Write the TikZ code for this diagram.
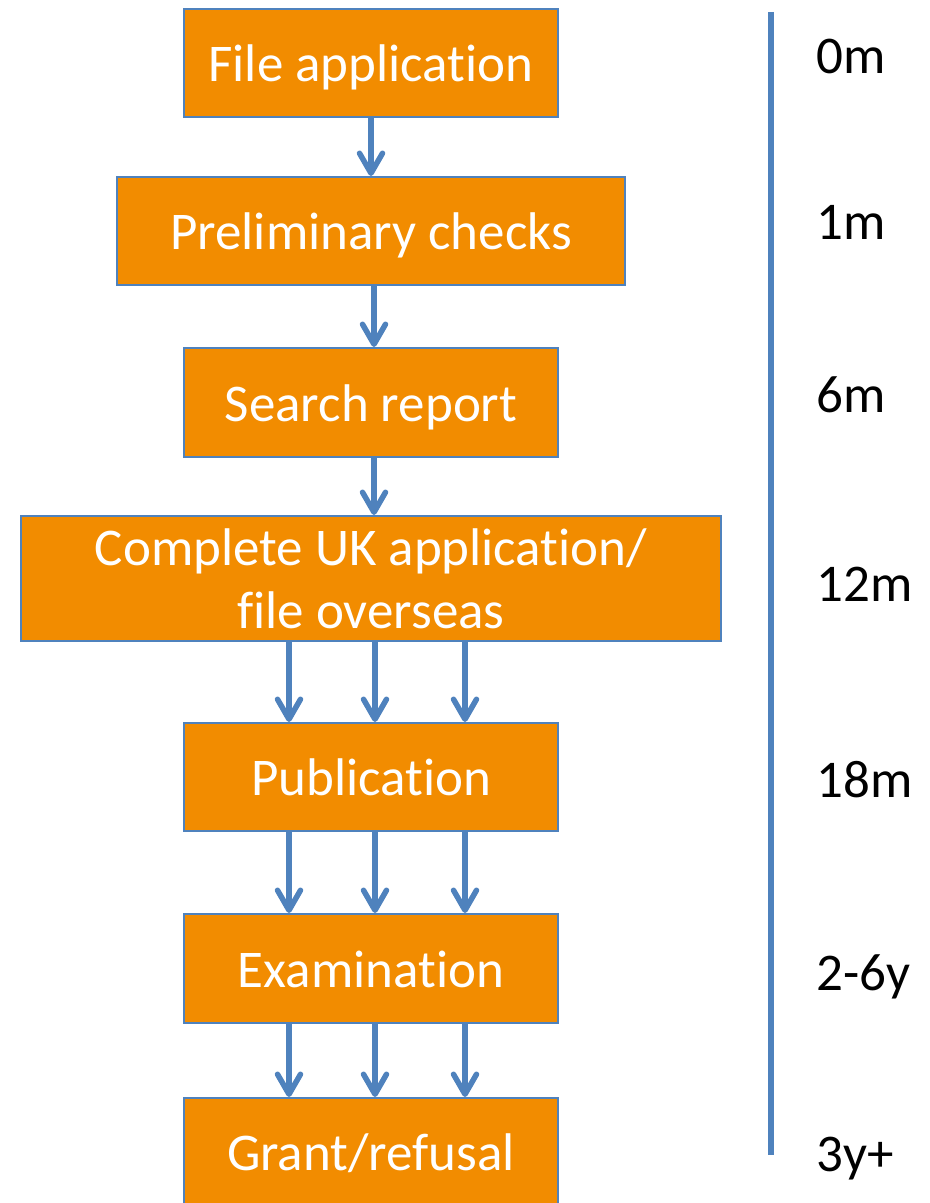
\documentclass[tikz,border=0pt]{standalone}
\definecolor{tangerine}{rgb}{0.95, 0.55, 0.0}
\definecolor{steel}{rgb}{0.31, 0.51, 0.74}
\usepackage{fontspec}
\setmainfont{Carlito}[Ligatures=CommonOff]
\usepackage{tikz}
\usetikzlibrary{calc}
\usetikzlibrary{positioning}
\usetikzlibrary{arrows.meta}

\begin{document}
\begin{tikzpicture}[x=0.5pt, y=-0.5pt,
			stage/.style={draw=steel, line width=1pt, rectangle, fill=tangerine, text=white, font=\fontsize{26.5pt}{31.35pt}\selectfont, inner sep=0pt},
			stageBox/.style={stage, minimum width=187pt, minimum height=54pt, text height=23.85pt, text depth=5.3pt},
			flow/.style={draw=steel, line width=2.75pt, -{Straight Barb[length=10pt, width=11.5pt, round]}},
			timeline/.style={draw=steel, line width=3pt},
			stamp/.style={anchor=base west, inner sep=0pt, font=\fontsize{26.5pt}{31.35pt}\selectfont},
			]
			\useasboundingbox (0,0) rectangle (930,1203);
			
			% stages
			\draw node[stageBox] (file) at (371,63) {File application};
			\draw node[stageBox][minimum width=254pt, below=29pt of file] (checks) {Preliminary checks};
			\draw node[stageBox][minimum height=54.5pt, below=30.5pt of checks] (search) {Search report};
			\draw node[stage][minimum width=350pt, minimum height=62.5pt, align=center, below=28.5pt of search] (complete) {Complete UK application/\\file overseas};
			\draw node[stageBox][below=40pt of complete] (publication) {Publication};
			\draw node[stageBox][minimum height=54.5pt, below=40.5pt of publication] (exam) {Examination};
			\draw node[stageBox][below=36.5pt of exam] (grant) {Grant/refusal};
			
			%
			\coordinate (axisTop) at (770.7,12);
			\coordinate (axisBottom) at (770.7,1155);
			\draw [timeline] (axisTop) -- (axisBottom);
			
			\foreach \t/\y [count=\i] in {0m/74, 1m/240, 6m/412, 12m/601.7, 18m/797.7, 2-6y/990, 3y+/1171.7}
			{\draw node[stamp](time\i) at (816,\y) {\t};}
			
			% Arrow
			\draw [flow] (file.south) -- (checks.north);
			\draw [flow] ([xshift=1.5pt]checks.south) -- ([xshift=1.5pt]search.north);
			\draw [flow] ([xshift=1.5pt]search.south) -- ([xshift=1.5pt]complete.north);
			
			\foreach \s in {-41pt, 2pt, 47pt}
			{\draw [flow] ([xshift=\s]complete.south) -- ([xshift=\s]publication.north);
			\draw [flow] ([xshift=\s]publication.south) -- ([xshift=\s]exam.north);
			\draw [flow] ([xshift=\s]exam.south) -- ([xshift=\s]grant.north);}
			
		\end{tikzpicture}
\end{document}
